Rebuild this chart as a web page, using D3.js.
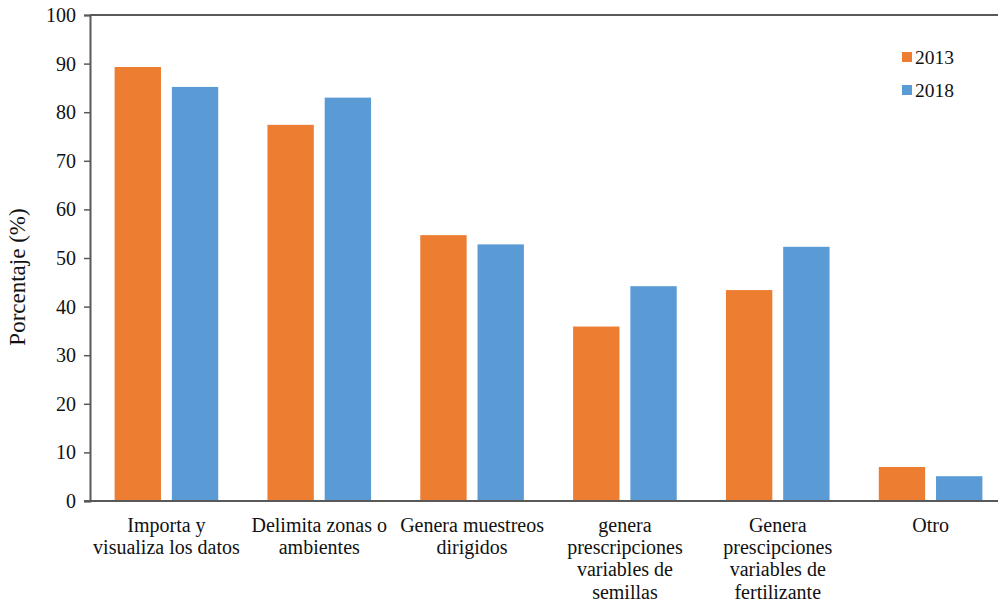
<!DOCTYPE html>
<html><head><meta charset="utf-8">
<script src="https://cdn.jsdelivr.net/npm/d3@7"></script>
<style>body{margin:0;background:#fff}svg{display:block}svg text{font-family:"Liberation Serif","Times New Roman",serif;fill:#111}</style>
</head><body>
<svg id="c" width="998" height="605"></svg>
<script>
const categories = [
  ["Importa y","visualiza los datos"],
  ["Delimita zonas o","ambientes"],
  ["Genera muestreos","dirigidos"],
  ["genera","prescripciones","variables de","semillas"],
  ["Genera","prescipciones","variables de","fertilizante"],
  ["Otro"]
];
const seriesNames = ["2013","2018"];
const values2013 = [89.3, 77.4, 54.7, 35.9, 43.4, 7.0];
const values2018 = [85.2, 83.0, 52.8, 44.2, 52.3, 5.1];
const colors = ["#ed7d31","#5b9bd5"];
const yTicks = [0,10,20,30,40,50,60,70,80,90,100];

(function(){
const svg = d3.select("#c");
const mLeft = 90, mRight = 1007, mTop = 15, mBottom = 501;

const x = d3.scaleBand().domain(d3.range(categories.length)).range([mLeft, mRight]).paddingInner(0).paddingOuter(0);
const xi = d3.scaleBand().domain([0,1]).range([0, x.bandwidth()]).paddingInner(0.19).paddingOuter(0.43);
const y = d3.scaleLinear().domain([0,100]).range([mBottom, mTop]);

const series = [values2013, values2018];
series.forEach((vals, si) => {
  svg.append("g").selectAll("rect").data(vals).join("rect")
    .attr("x", (d,i) => x(i) + xi(si))
    .attr("width", xi.bandwidth())
    .attr("y", d => y(d))
    .attr("height", d => y(0) - y(d))
    .attr("fill", colors[si]);
});

svg.append("line").attr("x1", mLeft).attr("x2", 998).attr("y1", mTop).attr("y2", mTop)
  .attr("stroke", "#595959").attr("stroke-width", 2);

const ya = svg.append("g").attr("transform", `translate(${mLeft},0)`)
  .call(d3.axisLeft(y).tickValues(yTicks).tickSize(6).tickPadding(8));
ya.attr("font-family", null);
ya.select(".domain").attr("stroke", "#595959").attr("stroke-width", 2);
ya.selectAll(".tick line").attr("stroke", "#595959").attr("stroke-width", 1.5);
ya.selectAll(".tick text").style("font-size", "20px").attr("fill", "#111");

svg.append("line").attr("x1", mLeft - 6).attr("x2", 998).attr("y1", mBottom).attr("y2", mBottom)
  .attr("stroke", "#595959").attr("stroke-width", 2);

categories.forEach((lines, i) => {
  const t = svg.append("text").attr("text-anchor", "middle").style("font-size", "20px");
  lines.forEach((ln, j) => {
    t.append("tspan").attr("x", x(i) + x.bandwidth()/2).attr("y", 532 + j*22.2).text(ln);
  });
});

svg.append("text").attr("transform", "translate(25,277) rotate(-90)")
  .attr("text-anchor", "middle").style("font-size", "23px")
  .text("Porcentaje (%)");

seriesNames.forEach((n, i) => {
  const ly = 57 + i*33;
  svg.append("rect").attr("x", 902).attr("y", ly - 5).attr("width", 10).attr("height", 10).attr("fill", colors[i]);
  svg.append("text").attr("x", 915).attr("y", ly + 7).style("font-size", "19.5px").text(n);
});
})();
</script>
</body></html>
